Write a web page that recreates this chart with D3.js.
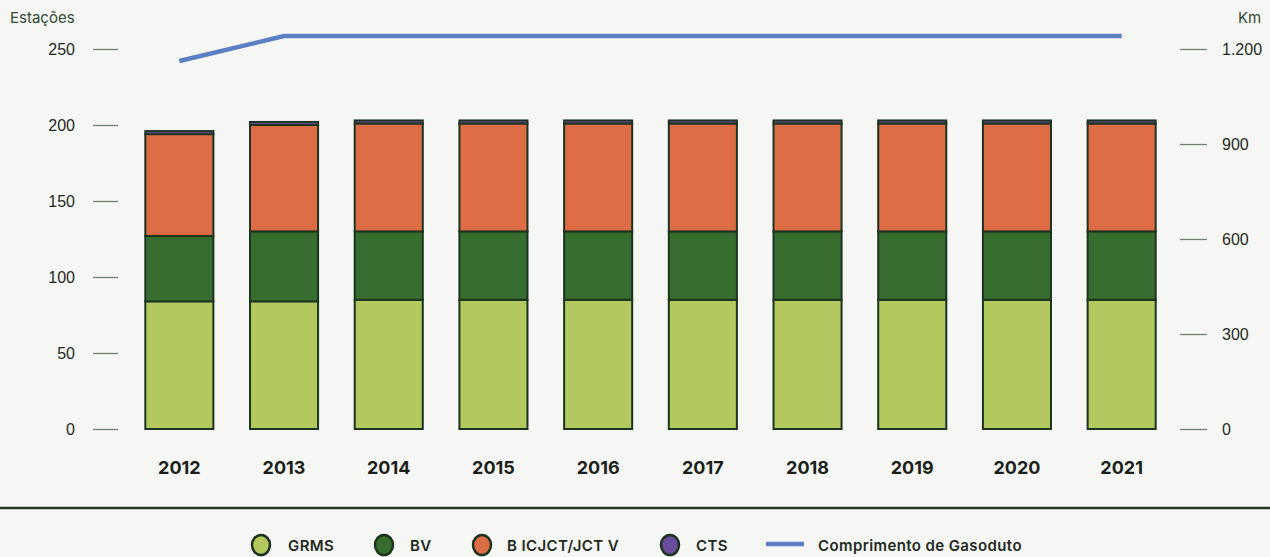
<!DOCTYPE html>
<html>
<head>
<meta charset="utf-8">
<script src="https://cdnjs.cloudflare.com/ajax/libs/d3/7.8.5/d3.min.js"></script>
<style>
  body { margin: 0; background: #f6f6f4; }
  svg { display: block; font-family: "Inter", "Open Sans", sans-serif; }
</style>
</head>
<body>
<div id="chart"></div>
<script>
// Data
var years = ["2012", "2013", "2014", "2015", "2016", "2017", "2018", "2019", "2020", "2021"];
var grms = [84, 84, 85, 85, 85, 85, 85, 85, 85, 85];
var bv = [43, 46, 45, 45, 45, 45, 45, 45, 45, 45];
var bicjct = [67, 70, 71, 71, 71, 71, 71, 71, 71, 71];
var cts = [2, 2, 2, 2, 2, 2, 2, 2, 2, 2];
var gasoduto = [1162, 1241, 1241, 1241, 1241, 1241, 1241, 1241, 1241, 1241];
var leftTicks = [0, 50, 100, 150, 200, 250];
var rightTicks = [0, 300, 600, 900, 1200];

var keys = ["grms", "bv", "bicjct", "cts"];
var colors = { grms: "#b3c85e", bv: "#376e30", bicjct: "#dc6d44", cts: "#6a4c9c" };
var lineColor = "#5b7fc4";
var strokeDark = "#1c3320";
var textColor = "#1f2a1f";

var width = 1270, height = 557;

var svg = d3.select("#chart")
    .append("svg")
    .attr("width", width)
    .attr("height", height);

svg.append("rect").attr("width", width).attr("height", height).attr("fill", "#f6f6f4");

// Build rows for stacking
var rows = years.map(function(y, i) {
    return { year: y, grms: grms[i], bv: bv[i], bicjct: bicjct[i], cts: cts[i] };
});
var stacked = d3.stack().keys(keys)(rows);

var x = d3.scaleBand().domain(years).range([127, 1174]).paddingInner(0.35).paddingOuter(0.175);
var yL = d3.scaleLinear().domain([0, 250]).range([429, 49]);
var yR = d3.scaleLinear().domain([0, 1200]).range([429, 49]);

// Left axis
var leftAxis = svg.append("g")
    .attr("transform", "translate(118,0)")
    .call(d3.axisLeft(yL).tickValues(leftTicks).tickSize(25).tickPadding(18));
leftAxis.select(".domain").remove();
leftAxis.selectAll("line").attr("stroke", "#6f7f72").attr("stroke-width", 1.3);
leftAxis.selectAll("text").attr("fill", textColor).style("font-size", "16px");

// Right axis
var rightAxis = svg.append("g")
    .attr("transform", "translate(1180,0)")
    .call(d3.axisRight(yR).tickValues(rightTicks).tickSize(27).tickPadding(15)
        .tickFormat(function(d) { return d3.format(",")(d).replace(/,/g, "."); }));
rightAxis.select(".domain").remove();
rightAxis.selectAll("line").attr("stroke", "#6f7f72").attr("stroke-width", 1.3);
rightAxis.selectAll("text").attr("fill", textColor).style("font-size", "16px");

// Axis titles
svg.append("text").attr("x", 10).attr("y", 23).attr("fill", "#2e4a30")
    .style("font-size", "15px").text("Estações");
svg.append("text").attr("x", 1238).attr("y", 23).attr("fill", "#2e4a30")
    .style("font-size", "15px").text("Km");

// Stacked bars
svg.selectAll(".layer")
    .data(stacked)
    .enter().append("g")
    .attr("class", "layer")
    .attr("fill", function(d) { return colors[d.key]; })
    .selectAll("rect")
    .data(function(d) { return d; })
    .enter().append("rect")
    .attr("x", function(d) { return x(d.data.year); })
    .attr("width", x.bandwidth())
    .attr("y", function(d) { return yL(d[1]); })
    .attr("height", function(d) { return yL(d[0]) - yL(d[1]); })
    .attr("stroke", strokeDark)
    .attr("stroke-width", 2);

// Pipeline length line
var line = d3.line()
    .x(function(d, i) { return x(years[i]) + x.bandwidth() / 2; })
    .y(function(d) { return yR(d); });
svg.append("path")
    .datum(gasoduto)
    .attr("d", line)
    .attr("fill", "none")
    .attr("stroke", lineColor)
    .attr("stroke-width", 4.5);

// X labels
svg.selectAll(".xlab")
    .data(years)
    .enter().append("text")
    .attr("class", "xlab")
    .attr("x", function(d) { return x(d) + x.bandwidth() / 2; })
    .attr("y", 474)
    .attr("text-anchor", "middle")
    .attr("fill", "#1a1f1a")
    .style("font-size", "18px")
    .style("font-weight", "bold")
    .text(function(d) { return d; });

// Separator
svg.append("line").attr("x1", 0).attr("x2", width).attr("y1", 508).attr("y2", 508)
    .attr("stroke", "#1f3a22").attr("stroke-width", 2.5);

// Legend
var legendItems = [
    { label: "GRMS", color: colors.grms, cx: 261, tx: 288 },
    { label: "BV", color: colors.bv, cx: 384, tx: 410 },
    { label: "B ICJCT/JCT V", color: colors.bicjct, cx: 482, tx: 507 },
    { label: "CTS", color: colors.cts, cx: 670, tx: 696 }
];
var lg = svg.append("g");
legendItems.forEach(function(d) {
    lg.append("ellipse").attr("cx", d.cx).attr("cy", 545).attr("rx", 9).attr("ry", 10)
        .attr("fill", d.color).attr("stroke", strokeDark).attr("stroke-width", 2.5);
    lg.append("text").attr("x", d.tx).attr("y", 550.5).attr("fill", "#1f2a1f")
        .style("font-size", "15px").style("font-weight", "600")
        .style("letter-spacing", "0.4px").text(d.label);
});
lg.append("line").attr("x1", 766).attr("x2", 804).attr("y1", 544).attr("y2", 544)
    .attr("stroke", lineColor).attr("stroke-width", 4.5);
lg.append("text").attr("x", 818).attr("y", 550.5).attr("fill", "#1f2a1f")
    .style("font-size", "15px").style("font-weight", "600")
    .style("letter-spacing", "0.4px").text("Comprimento de Gasoduto");
</script>
</body>
</html>
